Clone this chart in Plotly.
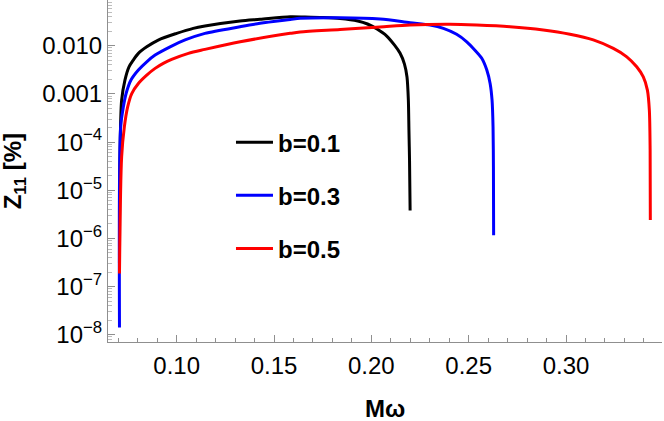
import plotly.graph_objects as go

# values (Mω, Z11 in %)
mw_b01 = [0.0706, 0.0709, 0.0717, 0.0734, 0.0755, 0.0777, 0.0803, 0.0846, 0.0905, 0.1000,
          0.1085, 0.1145, 0.1325, 0.1428, 0.1583, 0.1659, 0.1750, 0.1839, 0.1930, 0.1980,
          0.2029, 0.2079, 0.2119, 0.2147, 0.2170, 0.2183, 0.2190, 0.2193, 0.2196, 0.2199]
z_b01 = [3e-7, 5.9e-5, 7.4e-4, 1.94e-3, 3.66e-3, 5.05e-3, 6.95e-3, 9.5e-3, 0.01315, 0.0181,
         0.0230, 0.0257, 0.0327, 0.0354, 0.0400, 0.0395, 0.0386, 0.0368, 0.0327, 0.0283,
         0.0222, 0.0159, 0.0103, 7.05e-3, 4.17e-3, 2.24e-3, 7.4e-4, 1.77e-4, 4.2e-5, 3.8e-6]

mw_b03 = [0.0706, 0.0712, 0.0726, 0.0740, 0.0765, 0.0803, 0.0846, 0.0889, 0.0966, 0.1043,
          0.1145, 0.1325, 0.1428, 0.1583, 0.1634, 0.1839, 0.2045, 0.2199, 0.2302, 0.2370,
          0.2438, 0.2490, 0.2532, 0.2567, 0.2593, 0.2610, 0.2620, 0.2625, 0.2627, 0.2628]
z_b03 = [1.42e-8, 2.07e-4, 5.4e-4, 1.02e-3, 1.94e-3, 3.13e-3, 4.65e-3, 6.4e-3, 9.5e-3, 0.0132,
         0.0181, 0.0248, 0.0292, 0.0350, 0.0371, 0.0382, 0.0359, 0.0301, 0.0269, 0.0230,
         0.0173, 0.0121, 8.1e-3, 5.5e-3, 3.13e-3, 1.65e-3, 7.4e-4, 2.07e-4, 3.05e-5, 1.16e-6]

mw_b05 = [0.0706, 0.0717, 0.0731, 0.0748, 0.0769, 0.0803, 0.0846, 0.0889, 0.0931, 0.0974,
          0.1060, 0.1145, 0.1326, 0.1583, 0.1634, 0.1839, 0.2045, 0.2199, 0.2404, 0.2541,
          0.2712, 0.2883, 0.3020, 0.3140, 0.3243, 0.3312, 0.3363, 0.3397, 0.3418, 0.3428,
          0.3432, 0.3433]
z_b05 = [1.88e-7, 4.9e-5, 2.07e-4, 5.4e-4, 1.02e-3, 1.65e-3, 2.46e-3, 3.39e-3, 4.31e-3, 5.2e-3,
         6.95e-3, 8.4e-3, 0.0121, 0.0181, 0.0193, 0.0217, 0.0245, 0.0269, 0.0279, 0.0269,
         0.0248, 0.0212, 0.0173, 0.0132, 8.8e-3, 5.9e-3, 3.66e-3, 2.26e-3, 1.2e-3, 4.6e-4,
         6.8e-5, 2.4e-6]

series = [("b=0.1", mw_b01, z_b01, "black"),
          ("b=0.3", mw_b03, z_b03, "#0000ff"),
          ("b=0.5", mw_b05, z_b05, "#ff0000")]

x_ticks = [0.10, 0.15, 0.20, 0.25, 0.30]
y_ticks = [1e-8, 1e-7, 1e-6, 1e-5, 1e-4, 1e-3, 1e-2]
y_text = ["10<sup>−8</sup>", "10<sup>−7</sup>", "10<sup>−6</sup>", "10<sup>−5</sup>",
          "10<sup>−4</sup>", "0.001", "0.010"]

fig = go.Figure()
for i, (name, xs, ys, col) in enumerate(series):
    fig.add_trace(go.Scatter(x=xs, y=ys, mode="lines", name="<b>%s</b>" % name,
                             legendgroup=str(i),
                             line=dict(color=col, width=3, shape="spline", smoothing=0.8)))

y_minor = [k * 10.0 ** n for n in range(-9, -1) for k in range(2, 10)]
axcol = "#8f8f8f"

fig.update_layout(
    width=664, height=421,
    margin=dict(l=108, r=2, t=0, b=79),
    paper_bgcolor="white", plot_bgcolor="white",
    font=dict(family="Liberation Sans, Arial", size=24, color="black"),
    showlegend=True,
    legend=dict(x=0.222, y=0.649, xanchor="left", yanchor="top", bgcolor="rgba(0,0,0,0)",
                font=dict(size=24, family="Liberation Sans, Arial"), itemwidth=37,
                tracegroupgap=19, traceorder="grouped"),
    xaxis=dict(range=[0.0647, 0.3493], showgrid=False, zeroline=False, automargin=False,
               showline=True, linecolor=axcol, linewidth=1,
               tickmode="array", tickvals=x_ticks, ticktext=["%.2f" % v for v in x_ticks],
               ticks="inside", ticklen=7, tickcolor=axcol, ticklabelstandoff=2,
               minor=dict(tickmode="array", tickvals=[round(0.07 + 0.01 * k, 2) for k in range(28)],
                          ticks="inside", ticklen=4, tickcolor=axcol)),
    yaxis=dict(type="log", range=[-8.15, -1.05], showgrid=False, zeroline=False, automargin=False,
               showline=True, linecolor=axcol, linewidth=1,
               tickmode="array", tickvals=y_ticks, ticktext=y_text,
               ticks="inside", ticklen=7, tickcolor=axcol,
               minor=dict(tickmode="array", tickvals=y_minor, ticks="inside", ticklen=4,
                          tickcolor="#bdbdbd")),
    annotations=[
        dict(text="<b>Mω</b>", xref="paper", yref="paper", x=0.5, y=-0.193,
             xanchor="center", yanchor="middle", showarrow=False, font=dict(size=24)),
        dict(text="<b>Z<sub>11</sub> [%]</b>", xref="paper", yref="paper", x=-0.169, y=0.5,
             xanchor="center", yanchor="middle", textangle=-90, showarrow=False,
             font=dict(size=24)),
    ],
)

fig.write_html("out.html", config={"displayModeBar": False},
               post_script="document.body.style.margin='0';")
